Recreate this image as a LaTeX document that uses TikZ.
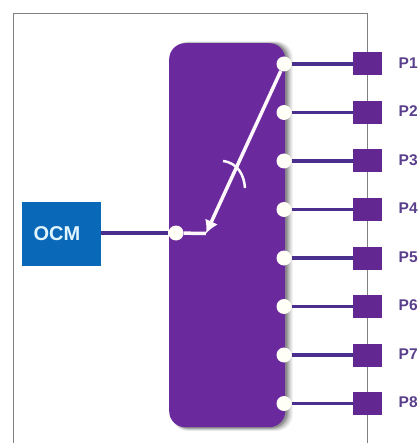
\documentclass[tikz,border=0pt]{standalone}
\usepackage{fontspec}
\setmainfont{Liberation Sans}
\usetikzlibrary{arrows.meta}
\definecolor{swpurple}{HTML}{6A2A9E}
\definecolor{wirepurple}{HTML}{4B2F8F}
\definecolor{ocmblue}{HTML}{0A68B8}
\definecolor{labelpurple}{HTML}{5A3F8C}
\definecolor{frameclr}{HTML}{808080}
\tikzset{
  x=1pt,y=-1pt,
  switchbody/.style={draw=none,fill=swpurple,rounded corners=16pt},
  portbox/.style={draw=none,fill=swpurple!92!black,minimum width=29pt,minimum height=23pt,inner sep=0pt},
  portlabel/.style={text=labelpurple,font=\bfseries\fontsize{15.5}{15.5}\selectfont,anchor=west,inner sep=0pt},
  portdot/.style={circle,fill=white!97!yellow,draw=none,minimum size=15pt,inner sep=0pt},
  wire/.style={draw=wirepurple,line width=3.5pt},
  ocmbox/.style={fill=ocmblue,draw=none,minimum width=79pt,minimum height=64pt,text=white!88!cyan,font=\bfseries\fontsize{20}{20}\selectfont,inner sep=0pt},
  frameline/.style={draw=frameclr,line width=1pt},
  swline/.style={draw=white!97!magenta,line width=3.5pt},
}
\begin{document}
\begin{tikzpicture}
\useasboundingbox (0,0) rectangle (418,443);
\fill[white] (0,0) rectangle (418,443);
% frame
\draw[frameline] (13,443) -- (13,14) -- (367,14) -- (367,443);
% shadow
\foreach \o/\a in {8/0.04,7/0.05,6/0.06,5/0.07,4/0.09,3/0.11,2/0.13}{
  \fill[black,opacity=\a,rounded corners=16pt] (172,44-\o/3) rectangle (285+\o,427+\o/2);
}
\node[switchbody,minimum width=116pt,minimum height=384pt,anchor=north west,inner sep=0pt] (sw) at (169,43) {};
\node[ocmbox] (ocm) at (61.5,234) {\hspace*{-9pt}OCM};
\node[portdot,minimum size=15pt] (in) at (176,233) {};
\coordinate (bend) at (206,233.5);
\draw[wire] (ocm.east |- in) -- (in);
\foreach \n/\y in {1/64,2/112.5,3/161,4/209.5,5/258,6/306.5,7/355,8/403.5}{
  \node[portbox] (b\n) at (367.5,\y) {};
  \node[portdot] (d\n) at (284,\y) {};
  \draw[wire] (d\n) -- (b\n);
  \node[portlabel] (l\n) at (398.5,\y-1) {P\n};
}
% switch arm
\draw[swline] (in) -- (bend);
\draw[swline,-{Latex[length=13pt,width=14pt]}] (d1) -- (bend);
\coordinate (arcA) at (223,161);
\coordinate (arcB) at (245,188);
\draw[draw=white!97!magenta,line width=2.5pt] (arcA) .. controls (238,163) and (244,175) .. (arcB);
\end{tikzpicture}
\end{document}
